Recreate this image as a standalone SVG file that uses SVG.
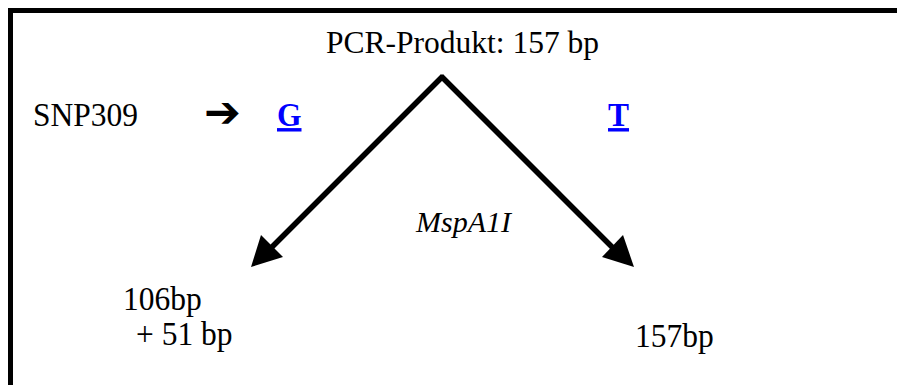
<svg xmlns="http://www.w3.org/2000/svg" width="897" height="385" viewBox="0 0 897 385">
<style>
.t{font-family:"Liberation Serif","Times New Roman",serif;font-size:31.5px;fill:#000}
.b{font-weight:bold;fill:#0000ff;text-decoration:underline}
.ln{stroke:#000;stroke-width:5.5;fill:none;stroke-linecap:butt}
</style>
<rect x="0" y="0" width="897" height="385" fill="#fff"/>
<rect x="10.5" y="10.5" width="920" height="420" fill="none" stroke="#000" stroke-width="5"/>
<g id="pcr"><text class="t" x="326" y="53">PCR-Produkt: 157 bp</text></g>
<g id="snp"><text class="t" transform="translate(33,126) scale(1,1.09)">SNP309</text></g>
<g id="arrowsym"><text x="204" y="127" style="font-family:'DejaVu Sans',sans-serif;font-size:44px;font-weight:bold">➔</text></g>
<g id="g"><text class="t b" transform="translate(277,126) scale(1,1.09)">G</text></g>
<g id="tt"><text class="t b" transform="translate(608,126) scale(1,1.09)">T</text></g>
<g id="enzyme"><text class="t" x="416" y="232" font-style="italic" style="font-size:30px">MspA1I</text></g>
<g id="left"><text class="t" transform="translate(123,310) scale(1,1.09)">106bp</text><text class="t" transform="translate(136,345) scale(1,1.09)">+ 51 bp</text></g>
<g id="right"><text class="t" transform="translate(635,347) scale(1,1.09)">157bp</text></g>
<g id="connectors">
<line class="ln" x1="443" y1="76" x2="270" y2="249"/>
<line class="ln" x1="441" y1="76" x2="614" y2="249"/>
<polygon points="251,267 261,235 283,257"/>
<polygon points="634,267 623,235 602,257"/>
</g>
</svg>
